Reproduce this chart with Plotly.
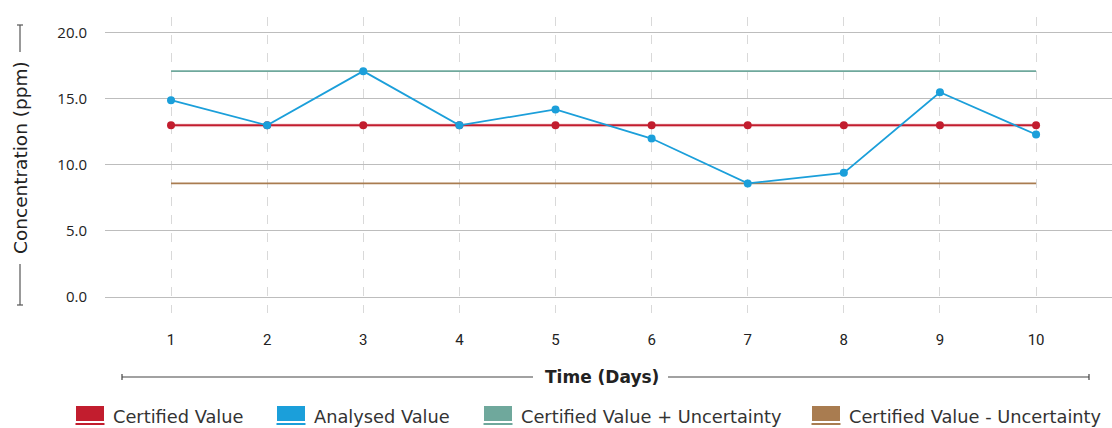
import plotly.graph_objects as go

days = [1, 2, 3, 4, 5, 6, 7, 8, 9, 10]
certified = [13.0] * 10
analysed = [14.9, 13.0, 17.1, 13.0, 14.2, 12.0, 8.6, 9.4, 15.5, 12.3]
upper = [17.1] * 10
lower = [8.6] * 10
y_ticks = [0, 5, 10, 15, 20]

RED = "#C21D2E"
BLUE = "#1B9FDA"
GREEN = "#6FA89C"
BROWN = "#A97C50"

W_PX, H_PX = 1112, 428
L, R, T, B = 105, 0, 17, 115
PW = W_PX - L - R
PH = H_PX - T - B


def fx(p):
    return (p - L) / PW


def fy(p):
    return (H_PX - B - p) / PH


fig = go.Figure()
fig.add_trace(go.Scatter(x=days, y=upper, mode="lines", line=dict(color=GREEN, width=1.8),
                         name="Certified Value + Uncertainty", hoverinfo="skip"))
fig.add_trace(go.Scatter(x=days, y=lower, mode="lines", line=dict(color=BROWN, width=1.8),
                         name="Certified Value - Uncertainty", hoverinfo="skip"))
fig.add_trace(go.Scatter(x=days, y=certified, mode="lines", line=dict(color="rgba(194,29,46,0.12)", width=4),
                         showlegend=False, hoverinfo="skip"))
fig.add_trace(go.Scatter(x=days, y=certified, mode="lines+markers", line=dict(color=RED, width=2),
                         marker=dict(color=RED, size=8), name="Certified Value"))
fig.add_trace(go.Scatter(x=days, y=analysed, mode="lines+markers", line=dict(color=BLUE, width=1.8),
                         marker=dict(color=BLUE, size=8), name="Analysed Value"))

shapes = []
annotations = []

# Y-axis title with bracket
line_col = "#555555"
shapes += [
    dict(type="line", xref="paper", yref="paper", x0=fx(20), x1=fx(20), y0=fy(25), y1=fy(52),
         line=dict(color=line_col, width=1.2)),
    dict(type="line", xref="paper", yref="paper", x0=fx(20), x1=fx(20), y0=fy(264), y1=fy(305),
         line=dict(color=line_col, width=1.2)),
    dict(type="line", xref="paper", yref="paper", x0=fx(17), x1=fx(23), y0=fy(25), y1=fy(25),
         line=dict(color=line_col, width=1.2)),
    dict(type="line", xref="paper", yref="paper", x0=fx(17), x1=fx(23), y0=fy(305), y1=fy(305),
         line=dict(color=line_col, width=1.2)),
]
annotations.append(dict(text="Concentration (ppm)", xref="paper", yref="paper", x=fx(20), y=fy(158),
                        showarrow=False, textangle=-90, xanchor="center", yanchor="middle",
                        font=dict(family="DejaVu Sans", size=18.5, color="#222222")))

# X-axis title with bracket
xcol = "#444444"
shapes += [
    dict(type="line", xref="paper", yref="paper", x0=fx(122), x1=fx(533), y0=fy(377), y1=fy(377),
         line=dict(color=xcol, width=1.2)),
    dict(type="line", xref="paper", yref="paper", x0=fx(668), x1=fx(1089), y0=fy(377), y1=fy(377),
         line=dict(color=xcol, width=1.2)),
    dict(type="line", xref="paper", yref="paper", x0=fx(122), x1=fx(122), y0=fy(374), y1=fy(380),
         line=dict(color=xcol, width=1.2)),
    dict(type="line", xref="paper", yref="paper", x0=fx(1089), x1=fx(1089), y0=fy(374), y1=fy(380),
         line=dict(color=xcol, width=1.2)),
]
annotations.append(dict(text="<b>Time (Days)</b>", xref="paper", yref="paper", x=fx(602), y=fy(377),
                        showarrow=False, xanchor="center", yanchor="middle",
                        font=dict(family="DejaVu Sans", size=17, color="#222222")))

# Custom legend
legend_items = [
    ("Certified Value", RED, 76),
    ("Analysed Value", BLUE, 277),
    ("Certified Value + Uncertainty", GREEN, 484),
    ("Certified Value - Uncertainty", BROWN, 812),
]
for label, col, x0 in legend_items:
    shapes.append(dict(type="rect", xref="paper", yref="paper", x0=fx(x0), x1=fx(x0 + 28),
                       y0=fy(421), y1=fy(406), fillcolor=col, line=dict(width=0)))
    shapes.append(dict(type="line", xref="paper", yref="paper", x0=fx(x0 - 0.5), x1=fx(x0 + 28.5),
                       y0=fy(424), y1=fy(424), line=dict(color=col, width=2)))
    annotations.append(dict(text=label, xref="paper", yref="paper", x=fx(x0 + 35), y=fy(416.5),
                            showarrow=False, xanchor="left", yanchor="middle",
                            font=dict(family="DejaVu Sans", size=17.8, color="#333333")))

fig.update_layout(
    width=W_PX, height=H_PX,
    margin=dict(l=L, r=R, t=T, b=B, pad=0),
    paper_bgcolor="white", plot_bgcolor="white",
    showlegend=False,
    shapes=shapes,
    annotations=annotations,
    xaxis=dict(range=[0.313, 10.79], tickvals=days, ticktext=[str(d) for d in days],
               showgrid=True, gridcolor="#D9D9D9", gridwidth=1, griddash="dash",
               zeroline=False, showline=False, ticks="outside", ticklen=13, tickcolor="rgba(0,0,0,0)",
               tickfont=dict(family="Roboto", size=15, color="#222222")),
    yaxis=dict(range=[-1.21, 21.2], tickvals=y_ticks, tickformat=".1f",
               showgrid=True, gridcolor="#BDBDBD", gridwidth=1,
               zeroline=False, showline=False, ticks="outside", ticklen=14, tickcolor="rgba(0,0,0,0)",
               tickfont=dict(family="Open Sans", size=15, color="#222222")),
)

fig.write_html("out.html", config={"displayModeBar": False},
               post_script="document.body.style.margin='0';")
